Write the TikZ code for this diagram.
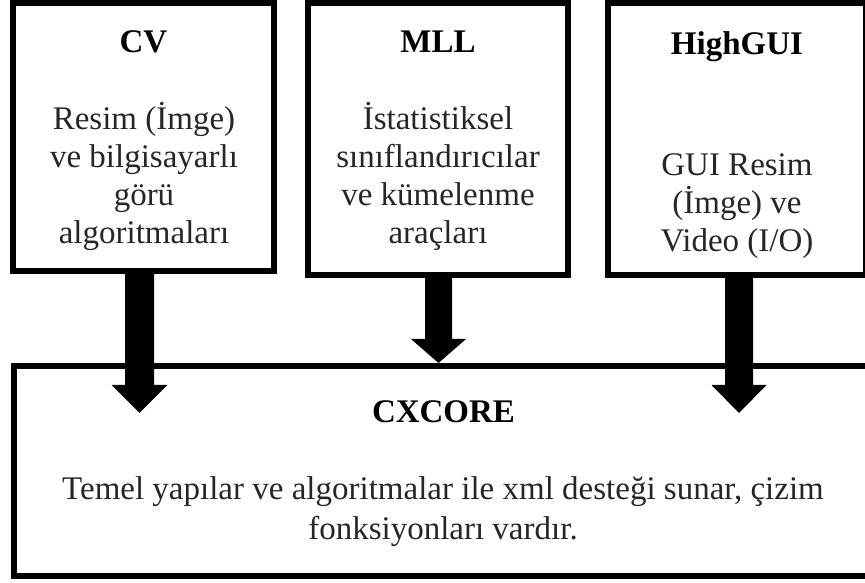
\documentclass[tikz,border=0pt]{standalone}
\usepackage{fontspec}
\setmainfont{Liberation Serif}
\usetikzlibrary{calc}
\def\blockarrow(#1)(#2)(#3:#4:#5){\fill ($(#1)+(-#3,0)$) -- ($(#2)+(-#3,#5)$) -- ($(#2)+(-#4,#5)$) -- (#2) -- ($(#2)+(#4,#5)$) -- ($(#2)+(#3,#5)$) -- ($(#1)+(#3,0)$) -- cycle;}
\tikzset{
	box/.style={draw, line width=6pt, inner sep=0pt},
	title/.style={font=\fontsize{33}{38}\selectfont\bfseries, anchor=base, inner sep=0pt},
	body/.style={font=\fontsize{33}{38}\selectfont, align=center, anchor=base, inner sep=0pt, text=black!85}
}

\begin{document}
\begin{tikzpicture}[x=1pt, y=1pt]
		%%%%% START %%%%%
		\useasboundingbox (0, 0) rectangle (865, 583);
		
		\node[box, minimum width=261pt, minimum height=267.5pt] (cv) at (143.5, 445.75) {};
		\node[box, minimum width=260pt, minimum height=271.5pt] (mll) at (438, 443.75) {};
		\node[box, minimum width=258pt, minimum height=271.5pt] (highgui) at (737, 443.75) {};
		\node[box, minimum width=856pt, minimum height=210pt] (cxcore) at (442, 112) {};
		
		\node[title] (cvtitle) at (143.5, 530) {CV};
		\node[body] (cvtext) at (144, 339) {Resim (İmge)\\ve bilgisayarlı\\görü\\algoritmaları};
		
		\node[title] (mlltitle) at (438, 530) {MLL};
		\node[body] (mlltext) at (438, 339) {İstatistiksel\\sınıflandırıcılar\\ve kümelenme\\araçları};
		
		\node[title] (highguititle) at (737, 528) {HighGUI};
		\node[body] (highguitext) at (737, 331) {GUI Resim\\(İmge) ve\\Video (I/O)};
		
		\node[title] (cxcoretitle) at (443.5, 160) {CXCORE};
		\node[body, font=\fontsize{33}{40}\selectfont] (cxcoretext) at (443, 43) {Temel yapılar ve algoritmalar ile xml desteği sunar, çizim\\fonksiyonları vardır.};
		
		\coordinate (cvtip) at (139.5, 170);
		\coordinate (cvstart) at (cvtip |- cv.south);
		\blockarrow(cvstart)(cvtip)(14.5:28:28);
		
		\coordinate (mlltip) at (438.5, 220);
		\coordinate (mllstart) at (mlltip |- mll.south);
		\blockarrow(mllstart)(mlltip)(13.5:27.5:24);
		
		\coordinate (highguitip) at (739, 170);
		\coordinate (highguistart) at (highguitip |- highgui.south);
		\blockarrow(highguistart)(highguitip)(14:27.5:28);
		
		%%%%% END %%%%%
\end{tikzpicture}
\end{document}
